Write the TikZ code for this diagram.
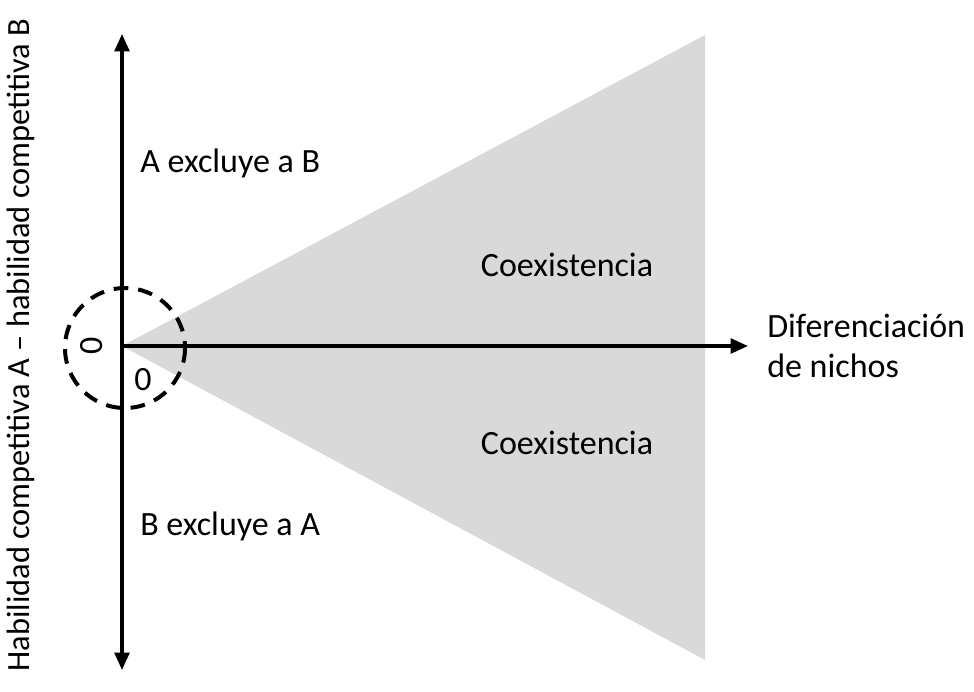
\documentclass[tikz,border=0pt]{standalone}
\usepackage{fontspec}
\setmainfont{Carlito}
\usetikzlibrary{arrows.meta}
\begin{document}
\begin{tikzpicture}[x=0.75pt,y=-0.75pt]
\tikzstyle{every node}+=[inner sep=0pt,font=\fontsize{25.5}{30}\selectfont]
\tikzstyle{axis}=[line width=2.6pt,-{Triangle[length=13pt,width=11pt]}]
\useasboundingbox (0,0) rectangle (974,692);
\coordinate (O) at (122,346);
\coordinate (top) at (122,34);
\coordinate (bot) at (122,670);
\coordinate (right) at (748,346);
\coordinate (wu) at (705,35);
\coordinate (wd) at (705,660);
\fill [black!15] (O) -- (wu) -- (wd) -- cycle;
\draw [axis] (O) -- (top);
\draw [axis] (O) -- (bot);
\draw [axis] (O) -- (right);
\draw [black,line width=3pt,dash pattern=on 11pt off 7.5pt] (125,348) circle (60);
\node (zy) [rotate=90] at (92,346) {0};
\node (zx) at (143,380) {0};
\node (ab) [anchor=west] at (140,163) {A excluye a B};
\node (ba) [anchor=west] at (140,526) {B excluye a A};
\node (cu) at (567,265) {Coexistencia};
\node (cd) at (567,443) {Coexistencia};
\node (dn) [anchor=west,align=left] at (767,346) {Diferenciación\\de nichos};
\node (yl) [rotate=90,font=\fontsize{24.3}{30}\selectfont] at (21,345) {Habilidad competitiva A -- habilidad competitiva B};
\end{tikzpicture}
\end{document}
